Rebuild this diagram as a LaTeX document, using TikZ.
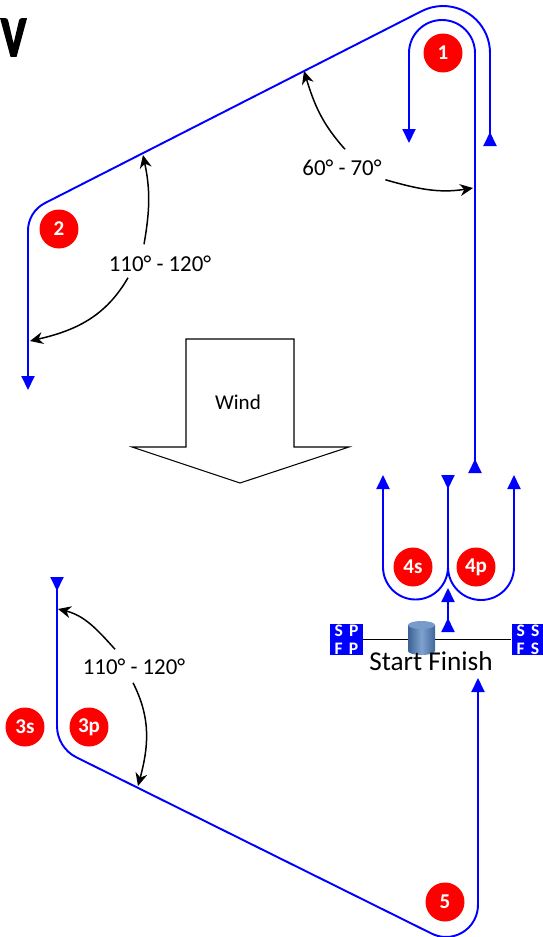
\documentclass[tikz,border=0pt]{standalone}
\usepackage{fontspec}
\setmainfont{Carlito}
\newfontfamily\titlefont{Carlito}[FakeBold=4]
\usetikzlibrary{arrows.meta,calc}
\definecolor{legblue}{RGB}{0,0,255}
\definecolor{markred}{RGB}{255,0,0}
\definecolor{boatblue}{RGB}{74,122,184}
\tikzset{
  leg/.style={legblue, line width=1.1pt},
  legto/.style={leg, -{Triangle[length=2.8mm,width=2.6mm]}},
  legfromto/.style={leg, {Triangle[reversed,length=2.8mm,width=2.6mm]}-{Triangle[length=2.8mm,width=2.6mm]}},
  buoy/.style={circle, fill=markred, minimum size=0.78cm, inner sep=0pt,
               text=white, font=\bfseries\fontsize{12}{12}\selectfont},
  anglbl/.style={font=\fontsize{13}{15}\selectfont, inner sep=2pt},
  angarrow/.style={-{Stealth[length=2.6mm,width=2.4mm]}, line width=0.85pt, black},
  flag/.style={fill=legblue, minimum width=0.66cm, minimum height=0.62cm, inner sep=0pt,
               text=white, align=center, font=\bfseries\fontsize{10}{10.2}\selectfont},
  windarrow/.style={draw=black, fill=white, line width=0.6pt}
}
\begin{document}
\begin{tikzpicture}[x=0.02cm, y=0.02cm]
\useasboundingbox (0,0) rectangle (543,-937);
% title letter
\node[anchor=north west, inner sep=0pt, xscale=0.74, transform shape,
      font=\titlefont\bfseries\fontsize{32}{32}\selectfont] (title) at (1,-19) {V};

% wind
\draw[windarrow] (186,-339) -- (294,-339) -- (294,-447) -- (349,-447) -- (240,-483)
  -- (132,-447) -- (186,-447) -- cycle;
\node[font=\fontsize{12}{14}\selectfont] (wind) at (238,-402) {Wind};

% legs of the course
\draw[legfromto] (490,-146) -- (490,-53) arc[start angle=0, end angle=117, radius=47]
  -- (44.9,-203.1) arc[start angle=117, end angle=180, radius=31] -- (28,-390);
\draw[legfromto] (475,-473) -- (475,-53) arc[start angle=0, end angle=180, radius=33] -- (409,-143);
\draw[legfromto] (448,-475) -- (448,-567) arc[start angle=0, end angle=-180, radius=32.5] -- (383,-475);
\draw[legto] (448,-567) arc[start angle=180, end angle=360, radius=33] -- (514,-475);
\draw[legfromto] (448,-632) -- (448,-588);
\draw[legfromto] (57,-577) -- (57,-726) arc[start angle=180, end angle=243.5, radius=35]
  -- (431.7,-933.6) arc[start angle=243.5, end angle=360, radius=32] -- (478,-678);

% start / finish line
\node[flag] (fp) at (346.5,-639.5) {S\hspace{3.5pt}P\\F\hspace{3.5pt}P};
\node[flag] (fs) at (528,-639.5) {S\hspace{3.5pt}S\\F\hspace{3.5pt}S};
\draw[line width=0.8pt] (fp.east) -- (fs.west);
% committee boat
\coordinate (cboat) at (421.5,-625);
\shade[left color=boatblue!80!black, right color=boatblue!85!black, middle color=boatblue!70!white]
  ($(cboat)+(-13.5,0)$) -- ++(0,-26) arc[x radius=13.5, y radius=4, start angle=180, end angle=360]
  -- ++(0,26) -- cycle;
\fill[boatblue!75!white] (cboat) ellipse[x radius=13.5, y radius=4];
\node[font=\fontsize{15.5}{17}\selectfont, inner sep=0pt] (sfl) at (431,-661) {Start Finish};

% marks
\node[buoy] (m1) at (443,-53) {1};
\node[buoy] (m2) at (59,-229) {2};
\node[buoy] (m3s) at (25,-727) {3s};
\node[buoy] (m3p) at (89,-727) {3p};
\node[buoy] (m4s) at (413,-567) {4s};
\node[buoy] (m4p) at (476,-567) {4p};
\node[buoy] (m5) at (445,-902) {5};

% angles
\node[anglbl] (a1) at (342,-168) {60° - 70°};
\coordinate (a1up) at (304,-71);
\coordinate (a1rt) at (473,-188);
\draw[angarrow] ($(a1.north)+(3,7)$) to[out=132, in=-73] (a1up);
\draw[angarrow] (a1.south east) to[out=-16, in=189] (a1rt);

\node[anglbl] (b1) at (160,-264) {110° - 120°};
\coordinate (b1up) at (143,-155);
\coordinate (b1lt) at (30,-341);
\draw[angarrow] ($(b1.north)+(-16,8)$) to[out=80, in=-78] (b1up);
\draw[angarrow] ($(b1.south)+(-32,-2)$) to[out=240, in=13] (b1lt);

\node[anglbl] (c1) at (134,-667) {110° - 120°};
\coordinate (c1up) at (58,-609);
\coordinate (c1dn) at (138,-786);
\draw[angarrow] ($(c1.north)+(-19,6)$) to[out=132, in=-14] (c1up);
\draw[angarrow] ($(c1.south)+(-1,-4)$) to[out=-63, in=75] (c1dn);
\end{tikzpicture}
\end{document}
